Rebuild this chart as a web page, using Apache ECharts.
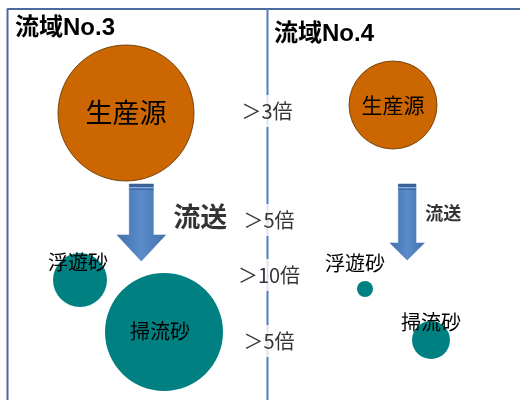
<!DOCTYPE html>
<html>
<head>
<meta charset="utf-8">
<script src="https://cdn.jsdelivr.net/npm/echarts@6/dist/echarts.min.js"></script>
<style>html,body{margin:0;padding:0;background:#fff;}#c{width:520px;height:400px;}</style>
</head>
<body>
<div id="c"></div>
<script>
// ---- data ----
const panelTitles = ['流域No.3', '流域No.4'];
const sourceName = '生産源';
const suspendedName = '浮遊砂';
const bedName = '掃流砂';
const flowName = '流送';
// circle centres (x, y) and diameters, one per basin
const sourceX = [126, 393];
const sourceY = [113, 105];
const sourceSize = [136, 88];
const suspendedX = [80, 365];
const suspendedY = [280, 289];
const suspendedSize = [54, 16];
const bedX = [164, 431];
const bedY = [332, 340];
const bedSize = [118, 38];
// arrows
const arrowX = [141.3, 407.2];
const arrowTop = [184, 184];
const arrowTip = [261, 260];
// ratio labels between basins
const ratioLabels = ['＞3倍', '＞5倍', '＞10倍', '＞5倍'];
const ratioX = [267, 269, 269, 269];
const ratioY = [111, 220, 275, 341];

// ---- styles ----
const FONT = "'Noto Sans CJK JP', sans-serif";
const TITLE_FONT = "'Liberation Sans','Noto Sans CJK JP',sans-serif";
const arrowShaftHalf = [12, 8.8];
const arrowHeadHalf = [24.3, 17.2];
const arrowHeadLen = [26, 17];
const srcFont = [27, 21];
const sandFont = 20;
const flowFont = [27, 18];
const flowOffset = [[59, -44], [36, -47]];
const suspLabelOffset = [[-2, -18], [-10, -26]];
const bedLabelOffset = [[-4, -1], [0, -18]];

const chart = echarts.init(document.getElementById('c'), null, {renderer: 'canvas'});

function bubbles(xs, ys, sizes, name, fonts, offsets) {
  return xs.map((x, i) => ({
    value: [x, ys[i], sizes[i]],
    name: name,
    label: {
      show: true, position: 'inside', formatter: '{b}',
      fontSize: Array.isArray(fonts) ? fonts[i] : fonts,
      fontFamily: FONT, color: '#000',
      offset: offsets ? offsets[i] : [0, 0]
    }
  }));
}

const option = {
  animation: false,
  backgroundColor: '#fff',
  grid: {left: 0, right: 0, top: 0, bottom: 0},
  xAxis: {type: 'value', min: 0, max: 520, show: false},
  yAxis: {type: 'value', min: 0, max: 400, inverse: true, show: false},
  title: [
    {text: panelTitles[0], left: 10, top: 11,
     textStyle: {fontSize: 24, fontWeight: 'bold', fontFamily: TITLE_FONT, color: '#000'}},
    {text: panelTitles[1], left: 269, top: 17,
     textStyle: {fontSize: 24, fontWeight: 'bold', fontFamily: TITLE_FONT, color: '#000'}}
  ],
  series: [
    // frame
    {type: 'line', z: 1, symbol: 'none', silent: true,
     lineStyle: {color: '#4a6b9c', width: 2},
     data: [[7.5, 400], [7.5, 9], [520, 9]]},
    // divider
    {type: 'line', z: 1, symbol: 'none', silent: true,
     lineStyle: {color: '#4f7fbf', width: 2},
     data: [[267.5, 9], [267.5, 400]]},
    // source circles
    {type: 'scatter', z: 3,
     symbolSize: v => v[2],
     itemStyle: {color: '#cc6600', borderColor: '#5a3000', borderWidth: 0.8, opacity: 1},
     data: bubbles(sourceX, sourceY, sourceSize, sourceName, srcFont)},
    // suspended sand
    {type: 'scatter', z: 3,
     symbolSize: v => v[2],
     itemStyle: {color: '#008080', opacity: 1},
     data: bubbles(suspendedX, suspendedY, suspendedSize, suspendedName, sandFont, suspLabelOffset)},
    // bed load
    {type: 'scatter', z: 3,
     symbolSize: v => v[2],
     itemStyle: {color: '#008080', opacity: 1},
     data: bubbles(bedX, bedY, bedSize, bedName, sandFont, bedLabelOffset)},
    // arrows
    {type: 'custom', z: 4,
     data: arrowX.map((x, i) => [x, arrowTop[i], arrowTip[i]]),
     renderItem: function (params, api) {
       const i = params.dataIndex;
       const t = api.coord([api.value(0), api.value(1)]);
       const b = api.coord([api.value(0), api.value(2)]);
       const sw = arrowShaftHalf[i], hw = arrowHeadHalf[i], hl = arrowHeadLen[i];
       const cx = t[0];
       const hb = b[1] - hl;
       const pts = [[cx - sw, t[1]], [cx + sw, t[1]], [cx + sw, hb], [cx + hw, hb],
                    [cx, b[1]], [cx - hw, hb], [cx - sw, hb]];
       return {
         type: 'group',
         children: [
           {type: 'polygon', shape: {points: pts},
            style: {fill: new echarts.graphic.LinearGradient(0, 0, 1, 0, [
              {offset: 0, color: '#4271ad'}, {offset: 0.5, color: '#5a8cca'}, {offset: 1, color: '#4271ad'}]),
              stroke: '#4a78b4', lineWidth: 0.6}},
           {type: 'rect', shape: {x: cx - sw, y: t[1], width: 2 * sw, height: 3},
            style: {fill: '#3b6295'}},
           {type: 'rect', shape: {x: cx - sw, y: t[1] + 3, width: 2 * sw, height: 1.5},
            style: {fill: '#8aaee0'}},
           {type: 'rect', shape: {x: cx - sw, y: t[1] + 4.5, width: 2 * sw, height: 1.5},
            style: {fill: '#3f6aa5'}}
         ]
       };
     }},
    // flow labels
    {type: 'scatter', z: 5, symbol: 'circle', symbolSize: 1,
     itemStyle: {color: 'rgba(0,0,0,0)'},
     data: arrowX.map((x, i) => ({
       value: [x, arrowTip[i]], name: flowName,
       label: {show: true, position: 'inside', formatter: '{b}', fontSize: flowFont[i],
               fontWeight: 'bold', fontFamily: FONT, color: '#000', offset: flowOffset[i]}
     }))},
    // ratio labels
    {type: 'scatter', z: 6, symbol: 'circle', symbolSize: 1,
     itemStyle: {color: 'rgba(0,0,0,0)'},
     data: ratioLabels.map((t, i) => ({
       value: [ratioX[i], ratioY[i]], name: t,
       label: {show: true, position: 'inside', formatter: '{b}', fontSize: 20,
               fontFamily: FONT, color: '#000', backgroundColor: '#fff', padding: [6, 2]}
     }))}
  ]
};
chart.setOption(option);
</script>
</body>
</html>
